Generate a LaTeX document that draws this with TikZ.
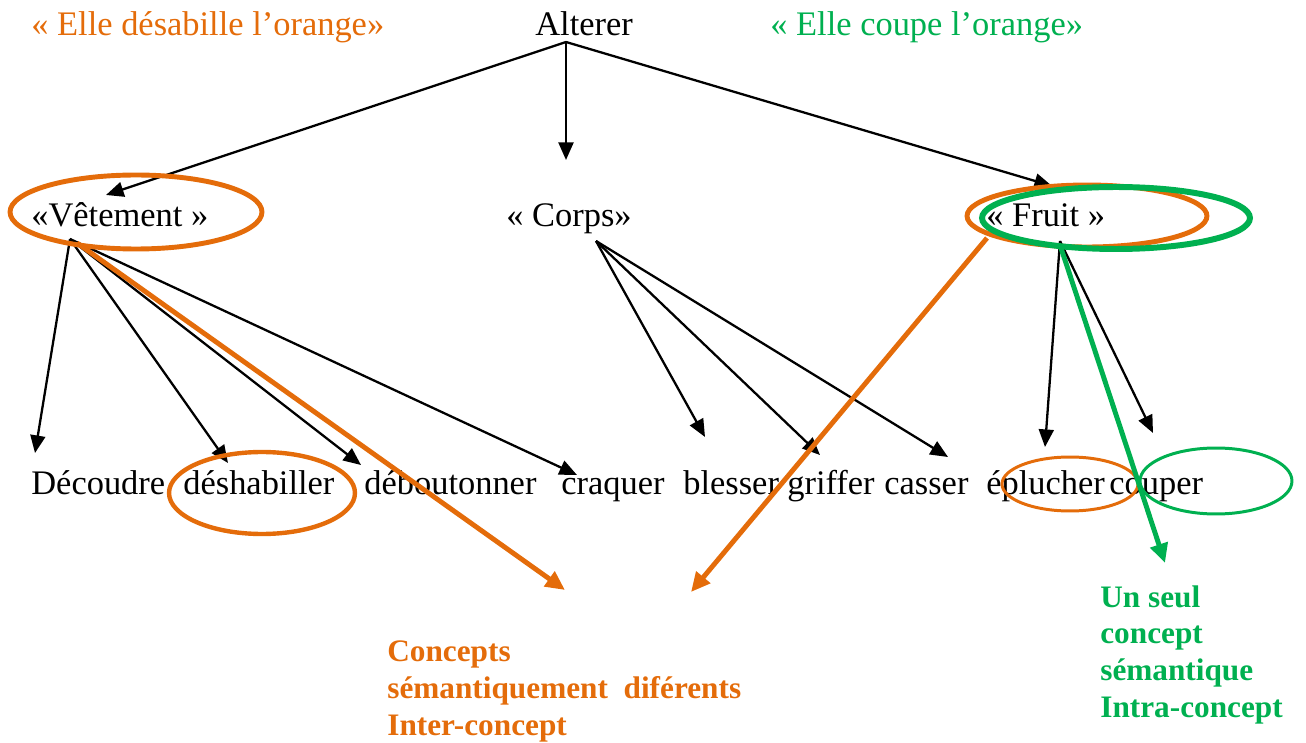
\documentclass[tikz,border=0pt]{standalone}
\usepackage{fontspec}
\setmainfont{Liberation Serif}
\usetikzlibrary{arrows.meta}
\definecolor{orng}{RGB}{228,108,10}
\definecolor{grn}{RGB}{0,176,80}

\begin{document}
\begin{tikzpicture}[x=0.02cm,y=-0.02cm]
\tikzset{
	word/.style={anchor=base west,
		inner sep=0pt,
		font=\fontsize{19.6}{23}\selectfont},
	note/.style={anchor=base west, % base = last line here
		inner sep=0pt,
		align=left,
		font=\fontsize{17.8}{20.8}\selectfont\bfseries},
	link/.style={-{Triangle[length=10pt,width=8.5pt]}, line width=1.3pt},
	bigarrow/.style={-{Triangle[length=11pt,width=10pt]}, line width=2.8pt},
	ring/.style={line width=2.8pt}
}
\useasboundingbox (0,0) rectangle (1306,743);

% top line
\node[word, text=orng] (ELLE1) at (31,36) {« Elle désabille l’orange»};
\node[word] (ALT) at (535,36) {Alterer};
\node[word, text=grn] (ELLE2) at (770,36) {« Elle coupe l’orange»};

% concepts
\node[word] (VET) at (31,227) {«Vêtement »};
\node[word] (CORPS) at (506,227) {« Corps»};
\node[word] (FRUIT) at (986,227) {« Fruit »};

% verbs
\node[word] (DECOUD) at (31,494) {Découdre};
\node[word] (DESHAB) at (183,494) {déshabiller};
\node[word] (DEBOUT) at (364,494) {déboutonner};
\node[word] (CRAQ) at (561,494) {craquer};
\node[word] (BLESS) at (683,494) {blesser};
\node[word] (GRIF) at (787,494) {griffer};
\node[word] (CASS) at (884,494) {casser};
\node[word] (EPLUCH) at (986,494) {éplucher};
\node[word] (COUP) at (1109,494) {couper};

\node[note, text=orng] (INTER) at (387,735) {Concepts\\sémantiquement\ \ diférents\\Inter-concept};
\node[note, text=grn] (INTRA) at (1100,717) {Un seul\\concept\\sémantique\\Intra-concept};

% arrow ends
\coordinate (ALTo) at (566,42);
\coordinate (VETi) at (106,195);
\coordinate (CORi) at (566,160);
\coordinate (FRUi) at (1052,186);
\coordinate (VETo) at (70,239);
\coordinate (CORo) at (596,241);
\coordinate (FRUo) at (1060,241);

{\draw[link] (ALTo) -- (VETi);}
{\draw[link] (ALTo) -- (CORi);}
{\draw[link] (ALTo) -- (FRUi);}

{\draw[link] (VETo) -- (35,453) coordinate (DECi);}
{\draw[link] (VETo) -- (228,463) coordinate (DESi);}
{\draw[link] (VETo) -- (361,465) coordinate (DEBi);}
{\draw[link] (VETo) -- (577,475) coordinate (CRAi);}

{\draw[link] (CORo) -- (705,437) coordinate (BLEi);}
{\draw[link] (CORo) -- (820,455) coordinate (GRIi);}
{\draw[link] (CORo) -- (948,457) coordinate (CASi);}

{\draw[link] (FRUo) -- (1045,447) coordinate (EPLi);}
{\draw[link] (FRUo) -- (1153,433) coordinate (COUi);}

% circled words
\draw[ring, orng] (136,212) ellipse [x radius=2.52cm, y radius=0.74cm];
\draw[ring, orng] (1087,216) ellipse [x radius=2.4cm, y radius=0.62cm];
\draw[ring, grn, line width=3.4pt] (1116,218) ellipse [x radius=2.68cm, y radius=0.62cm];
\draw[ring, orng, line width=2.5pt] (262,493) ellipse [x radius=1.86cm, y radius=0.82cm];
\draw[ring, orng, line width=1.7pt] (1070,484) ellipse [x radius=1.36cm, y radius=0.54cm];
\draw[ring, grn, line width=1.7pt] (1216,481) ellipse [x radius=1.52cm, y radius=0.66cm];

% thick arrows
{\draw[bigarrow, orng] (77,243) -- (565,590);}
{\draw[bigarrow, orng] (987,238) -- (691,592);}
{\draw[bigarrow, grn] (1060,245) -- (1165,563);}
\end{tikzpicture}
\end{document}
